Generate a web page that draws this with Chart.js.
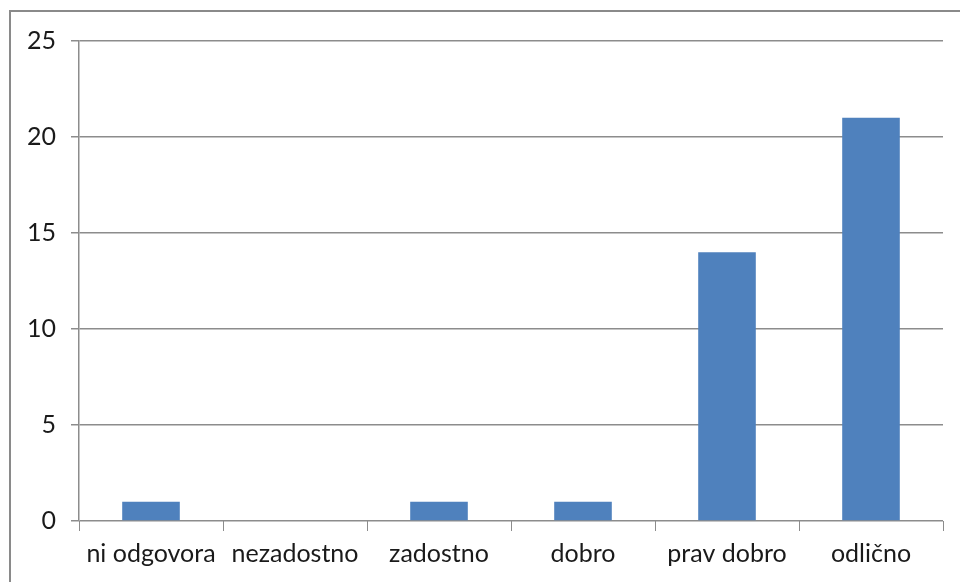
<!DOCTYPE html>
<html>
<head>
<meta charset="utf-8">
<script src="https://cdn.jsdelivr.net/npm/chart.js@4/dist/chart.umd.min.js"></script>
<style>
  html, body { margin: 0; padding: 0; background: #ffffff; }
  #wrap { position: relative; width: 960px; height: 582px; }
</style>
</head>
<body>
<div id="wrap"><canvas id="c" width="960" height="582"></canvas></div>
<script>
// Survey answers per grade
const categories = ['ni odgovora', 'nezadostno', 'zadostno', 'dobro', 'prav dobro', 'odlično'];
const counts = [1, 0, 1, 1, 14, 21];
const yTicks = [0, 5, 10, 15, 20, 25];

const gridColor = '#8c8c8c';
const textColor = '#1a1a1a';
const fontFamily = 'Lato, "Open Sans", sans-serif';

// Frame line drawn along the top and left edges of the canvas
const framePlugin = {
  id: 'frame',
  beforeDraw(chart) {
    const ctx = chart.ctx;
    ctx.save();
    ctx.strokeStyle = '#8a8a8a';
    ctx.lineWidth = 2;
    ctx.beginPath();
    ctx.moveTo(960, 11);
    ctx.lineTo(10, 11);
    ctx.lineTo(10, 582);
    ctx.stroke();
    ctx.restore();
  }
};

new Chart(document.getElementById('c'), {
  type: 'bar',
  data: {
    labels: categories,
    datasets: [{
      data: counts,
      backgroundColor: '#4f81bd',
      borderWidth: 0,
      barPercentage: 0.4,
      categoryPercentage: 1.0
    }]
  },
  plugins: [framePlugin],
  options: {
    responsive: false,
    animation: false,
    devicePixelRatio: 1,
    layout: { padding: { left: 0, right: 17, top: 41, bottom: 0 } },
    plugins: {
      legend: { display: false },
      tooltip: { enabled: false }
    },
    scales: {
      x: {
        offset: true,
        grid: {
          offset: true,
          drawOnChartArea: false,
          drawTicks: true,
          tickLength: 10,
          color: gridColor,
          lineWidth: 1
        },
        border: { display: false },
        ticks: {
          color: textColor,
          font: { family: fontFamily, size: 25 },
          padding: 8,
          maxRotation: 0,
          autoSkip: false
        },
        afterFit(scale) { scale.height = 61; }
      },
      y: {
        min: 0,
        max: 25,
        afterBuildTicks(scale) { scale.ticks = yTicks.map(v => ({ value: v })); },
        grid: {
          color: gridColor,
          lineWidth: 1.5,
          tickLength: 8
        },
        border: { display: true, color: gridColor, width: 1.5 },
        ticks: {
          color: textColor,
          font: { family: fontFamily, size: 25 },
          padding: 15
        },
        afterFit(scale) { scale.width = 79; }
      }
    }
  }
});
</script>
</body>
</html>
